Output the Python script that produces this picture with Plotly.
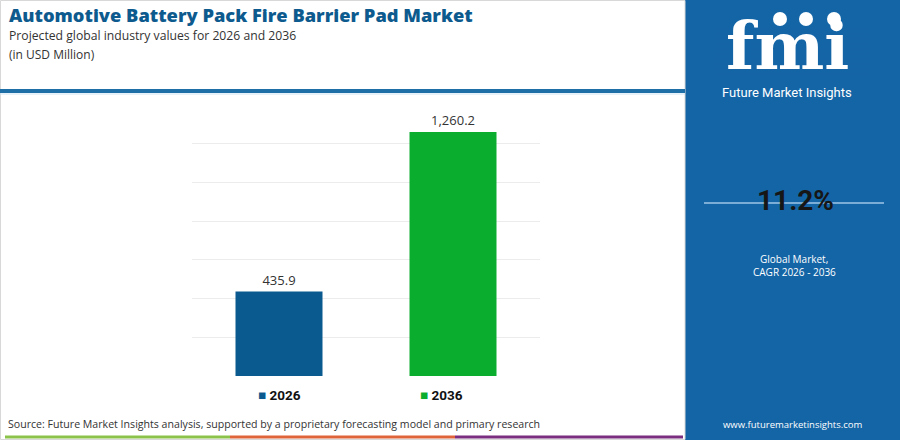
import plotly.graph_objects as go

# chart data
years = ["2026", "2036"]
values = [435.9, 1260.2]
bar_colors = ["#0b5a8f", "#0aad2e"]
cagr = "11.2%"
y_ticks = [0, 200, 400, 600, 800, 1000, 1200, 1400]

W, H = 900, 440
L, R, T, B = 192, 540, 105, 376   # plot area in pixels


def px(x):
    return (x - L) / (R - L)


def py(y):
    return (B - y) / (B - T)


panel = "#1465a6"

fig = go.Figure()
fig.add_trace(go.Bar(
    x=years, y=values,
    marker=dict(color=bar_colors, line=dict(width=0)),
    texttemplate="%{y:,.1f}", textposition="outside",
    textfont=dict(family="Open Sans", size=13, color="#333333"),
    cliponaxis=False, showlegend=False, hoverinfo="skip",
))

shapes = []
# right side panel
shapes.append(dict(type="rect", xref="paper", yref="paper", x0=px(685), x1=px(900),
                   y0=py(0), y1=py(440), fillcolor=panel, line=dict(width=0), layer="below"))
# outer light border
shapes.append(dict(type="rect", xref="paper", yref="paper", x0=px(0.5), x1=px(685),
                   y0=py(0.5), y1=py(439.5), line=dict(color="#d8d8d8", width=1), layer="below"))
# header rule
shapes.append(dict(type="line", xref="paper", yref="paper", x0=px(0), x1=px(685),
                   y0=py(91), y1=py(91), line=dict(color="#1e6fa8", width=4)))
shapes.append(dict(type="line", xref="paper", yref="paper", x0=px(0), x1=px(685),
                   y0=py(94), y1=py(94), line=dict(color="#cfe3f2", width=1)))
# bottom colour strip
for x0, x1, c in [(5, 230, "#8bc34a"), (230, 455, "#e0643a"), (455, 683, "#7b2d7f")]:
    shapes.append(dict(type="line", xref="paper", yref="paper", x0=px(x0), x1=px(x1),
                       y0=py(437), y1=py(437), line=dict(color=c, width=3)))
# CAGR rule
shapes.append(dict(type="line", xref="paper", yref="paper", x0=px(704), x1=px(884),
                   y0=py(203), y1=py(203), line=dict(color="#9fc6e6", width=1.5)))

annotations = []


def note(x, y, text, size, color, family="Open Sans", xanchor="left", weight=None):
    f = dict(family=family, size=size, color=color)
    if weight:
        f["weight"] = weight
    annotations.append(dict(xref="paper", yref="paper", x=px(x), y=py(y), text=text,
                            showarrow=False, xanchor=xanchor, yanchor="middle", font=f))


note(7, 14.5, "Automotive Battery Pack Fire Barrier Pad Market", 18.3, "#0d5a8e", weight=800)
note(7, 36, "Projected global industry values for 2026 and 2036", 12.2, "#333333")
note(7, 54, "(in USD Million)", 12, "#333333")
note(6, 424, "Source: Future Market Insights analysis, supported by a proprietary forecasting model and primary research",
     10.6, "#333333")

# legend drawn as text
for xpos, name, c in zip([256, 418], years, bar_colors):
    note(xpos, 395, f"<span style='color:{c}'>■</span> <b>{name}</b>", 13.5, "#111111",
         family="Roboto")

# panel texts
note(787, 46, "<b>fmi</b>", 66, "white", family="DejaVu Serif", xanchor="center")
note(787, 93, "Future Market Insights", 13, "white", family="Roboto", xanchor="center")
note(795, 200, f"<b>{cagr}</b>", 28, "#161616", family="Roboto", xanchor="center", weight=900)
note(794, 259, "Global Market,", 10, "white", xanchor="center")
note(794, 272, "CAGR 2026 - 2036", 10, "white", xanchor="center")
note(793, 424, "www.futuremarketinsights.com", 9.5, "white", xanchor="center")

# stripes across the logo
for yy in range(29, 76, 5):
    shapes.append(dict(type="line", xref="paper", yref="paper", x0=px(715), x1=px(870),
                       y0=py(yy), y1=py(yy), line=dict(color=panel, width=1.5)))
# small globe icons
for cx in [780, 806, 834]:
    shapes.append(dict(type="circle", xref="paper", yref="paper", x0=px(cx - 7), x1=px(cx + 7),
                       y0=py(12), y1=py(26), fillcolor="white", line=dict(width=0)))

fig.update_layout(
    width=W, height=H, autosize=False,
    margin=dict(l=L, r=W - R, t=T, b=H - B),
    paper_bgcolor="white", plot_bgcolor="white",
    bargap=0.5,
    xaxis=dict(showticklabels=False, showgrid=False, zeroline=False, showline=False),
    yaxis=dict(range=[0, 1400], tickvals=y_ticks, showticklabels=False,
               gridcolor="#ececec", gridwidth=1, zeroline=False, showline=False),
    shapes=shapes, annotations=annotations,
)

fig.write_html("out.html", config={"displayModeBar": False},
               post_script="document.body.style.margin='0';")
